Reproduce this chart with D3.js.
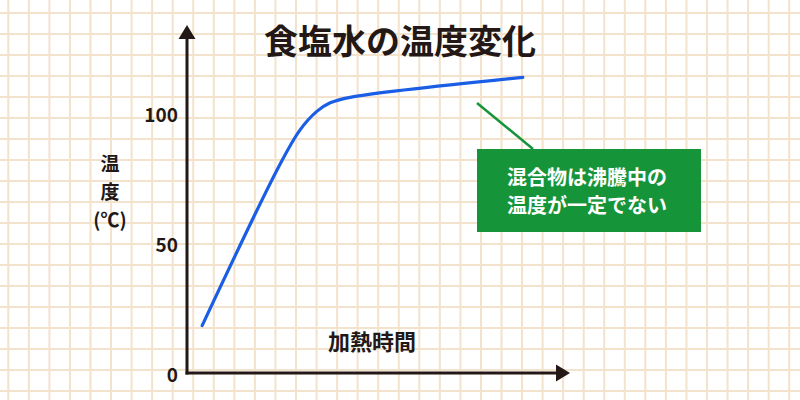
<!DOCTYPE html>
<html>
<head>
<meta charset="utf-8">
<script src="https://cdn.jsdelivr.net/npm/d3@7"></script>
<style>
  body { margin: 0; background: #fff; }
  text { font-family: "Noto Sans CJK JP", "Noto Sans", sans-serif; font-weight: 700; }
</style>
</head>
<body>
<div id="chart"></div>
<script>
// heating time (arbitrary units) vs temperature of salt water
const times = [0.41, 2.5, 3.06, 3.51, 3.88, 4.42, 9.10];
const temps = [19, 80.5, 94.2, 101.3, 104.7, 106.8, 114.5];
const yTicks = [0, 50, 100];
const title = "食塩水の温度変化";
const xLabel = "加熱時間";
const yLabel = ["温", "度", "(℃)"];
const note = ["混合物は沸騰中の", "温度が一定でない"];

const width = 800, height = 400;
const ink = "#231815";

const svg = d3.select("#chart").append("svg")
    .attr("width", width)
    .attr("height", height);

// graph-paper background
const grid = svg.append("g").attr("stroke", "#f3e2cc").attr("stroke-width", 2);
d3.range(8.3, width, 20.55).forEach(gx => {
    grid.append("line").attr("x1", gx).attr("x2", gx).attr("y1", 0).attr("y2", height);
});
d3.range(13, height, 21).forEach(gy => {
    grid.append("line").attr("y1", gy).attr("y2", gy).attr("x1", 0).attr("x2", width);
});

const x = d3.scaleLinear().domain([0, 10]).range([187, 556]);
const y = d3.scaleLinear().domain([0, 100]).range([375, 115]);

// axes with arrow heads
const x0 = x(0), y0 = y(0) - 2;
const yTop = 39, xEnd = x.range()[1];
svg.append("line").attr("x1", x0).attr("x2", x0).attr("y1", y0 + 1.5).attr("y2", yTop)
    .attr("stroke", ink).attr("stroke-width", 3);
svg.append("line").attr("x1", x0 - 1.5).attr("x2", xEnd).attr("y1", y0).attr("y2", y0)
    .attr("stroke", ink).attr("stroke-width", 3);
svg.append("path")
    .attr("d", `M${x0},${yTop - 14}L${x0 + 8.5},${yTop}L${x0 - 8.5},${yTop}Z`)
    .attr("fill", ink);
svg.append("path")
    .attr("d", `M${xEnd + 14},${y0}L${xEnd},${y0 - 8.5}L${xEnd},${y0 + 8.5}Z`)
    .attr("fill", ink);

const yAxis = d3.axisLeft(y).tickValues(yTicks).tickSize(0).tickPadding(9);
svg.append("g")
    .attr("transform", "translate(" + x0 + ",0)")
    .call(yAxis)
    .call(g => g.select(".domain").remove())
    .selectAll("text")
    .attr("fill", ink)
    .style("font-size", "19px")
    .style("font-family", "'Noto Sans CJK JP', sans-serif")
    .style("font-weight", 700);

// curve
const line = d3.line()
    .x((d, i) => x(times[i]))
    .y(d => y(d))
    .curve(d3.curveCatmullRom.alpha(0.5));
svg.append("path")
    .attr("d", line(temps))
    .attr("fill", "none")
    .attr("stroke", "#1a5ee6")
    .attr("stroke-width", 3.2)
    .attr("stroke-linecap", "round");

// title and labels
svg.append("text")
    .attr("x", 400).attr("y", 54)
    .attr("text-anchor", "middle")
    .attr("fill", ink)
    .style("font-size", "34px")
    .text(title);

svg.append("text")
    .attr("x", 372).attr("y", 350)
    .attr("text-anchor", "middle")
    .attr("fill", ink)
    .style("font-size", "22px")
    .text(xLabel);

svg.append("g").selectAll("text")
    .data(yLabel)
    .join("text")
    .attr("x", 110)
    .attr("y", (d, i) => 164 + i * 28)
    .attr("dy", "0.35em")
    .attr("text-anchor", "middle")
    .attr("fill", ink)
    .style("font-size", "19px")
    .text(d => d);

// callout
svg.append("line")
    .attr("x1", 477).attr("y1", 103)
    .attr("x2", 533).attr("y2", 149)
    .attr("stroke", "#16943a")
    .attr("stroke-width", 2.5);
svg.append("rect")
    .attr("x", 477).attr("y", 149)
    .attr("width", 224).attr("height", 83)
    .attr("fill", "#16943a");
svg.append("text")
    .attr("fill", "#fff")
    .style("font-size", "20px")
    .selectAll("tspan")
    .data(note)
    .join("tspan")
    .attr("x", 507)
    .attr("y", (d, i) => 185 + i * 28)
    .text(d => d);
</script>
</body>
</html>
